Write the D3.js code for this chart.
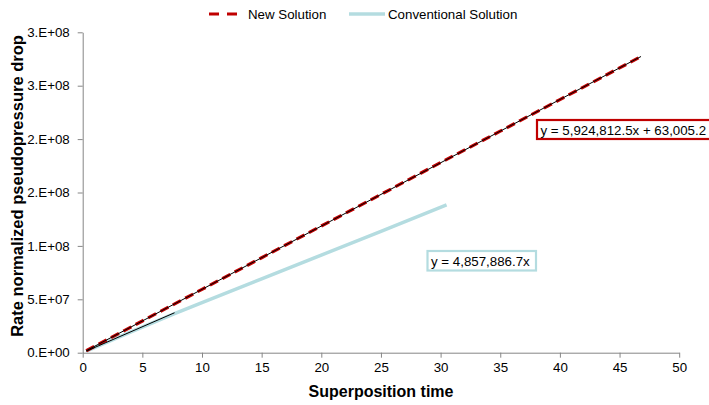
<!DOCTYPE html>
<html>
<head>
<meta charset="utf-8">
<script src="https://cdn.jsdelivr.net/npm/d3@7"></script>
<style>
  body { margin: 0; background: #fff; }
  svg { display: block; font-family: "Liberation Sans", Arial, sans-serif; }
</style>
</head>
<body>
<svg id="chart" width="709" height="405"></svg>
<script>
// ---- data ----
const seriesNames = ["New Solution", "Conventional Solution"];
const newSolutionX = [0.3, 2, 5, 10, 15, 20, 25, 30, 35, 40, 46.8];
const newSolutionY = [1.84e6, 1.19e7, 2.97e7, 5.93e7, 8.89e7, 1.186e8, 1.482e8, 1.78e8, 2.074e8, 2.37e8, 2.773e8];
const conventionalX = [0.3, 2, 4, 6, 7.7, 10, 15, 20, 25, 30.5];
const conventionalY = [1.4e6, 9.6e6, 1.92e7, 2.86e7, 3.66e7, 4.69e7, 6.91e7, 9.14e7, 1.137e8, 1.383e8];
const trendNew = [5924812.5, 63005.2, 0.3, 46.8];     // slope, intercept, xStart, xEnd
const trendConv = [4857886.7, 0, 0.3, 7.7];
const trendLabels = ["y = 5,924,812.5x + 63,005.2", "y = 4,857,886.7x"];
const xTickValues = [0, 5, 10, 15, 20, 25, 30, 35, 40, 45, 50];
const yTickValues = [0, 5e7, 1e8, 1.5e8, 2e8, 2.5e8, 3e8];
const yTickLabels = ["0.E+00", "5.E+07", "1.E+08", "2.E+08", "2.E+08", "3.E+08", "3.E+08"];
const xTitle = "Superposition time";
const yTitle = "Rate normalized pseudopressure drop";

// ---- drawing ----
const svg = d3.select("#chart");
const x = d3.scaleLinear().domain([0, 50]).range([82.7, 679.2]);
const y = d3.scaleLinear().domain([0, 3e8]).range([352.7, 32.3]);
const red = "#c00000", blue = "#b4dce0", axisCol = "#868686";
const fs = 13.3;

// axes
const xAxis = svg.append("g").attr("transform", `translate(0,${y(0)})`)
  .call(d3.axisBottom(x).tickValues(xTickValues).tickSize(5).tickSizeOuter(0).tickPadding(5));
const yAxis = svg.append("g").attr("transform", `translate(${x(0)},0)`)
  .call(d3.axisLeft(y).tickValues(yTickValues).tickSize(5).tickSizeOuter(0).tickPadding(8)
        .tickFormat((d, i) => yTickLabels[i]));
[xAxis, yAxis].forEach(g => {
  g.select(".domain").attr("stroke", axisCol);
  g.selectAll(".tick line").attr("stroke", axisCol);
  g.selectAll(".tick text").attr("fill", "#000").attr("font-size", fs)
    .attr("font-family", "Liberation Sans, Arial, sans-serif");
});

const line = d3.line().x(d => x(d[0])).y(d => y(d[1]));

// conventional
svg.append("path").datum(d3.zip(conventionalX, conventionalY))
  .attr("d", line).attr("fill", "none").attr("stroke", blue).attr("stroke-width", 3.5);
// new solution
svg.append("path").datum(d3.zip(newSolutionX, newSolutionY))
  .attr("d", line).attr("fill", "none").attr("stroke", red).attr("stroke-width", 3.2)
  .attr("stroke-dasharray", "9,5");

// trendlines
[trendNew, trendConv].forEach(t => {
  const pts = [[t[2], t[0] * t[2] + t[1]], [t[3], t[0] * t[3] + t[1]]];
  svg.append("path").datum(pts).attr("d", line).attr("fill", "none")
    .attr("stroke", "#000").attr("stroke-width", 1);
});

// trend labels
function label(text, lx, ly, w, h, col) {
  svg.append("rect").attr("x", lx).attr("y", ly).attr("width", w).attr("height", h)
    .attr("fill", "#fff").attr("stroke", col).attr("stroke-width", 2.2);
  svg.append("text").attr("x", lx + 3.5).attr("y", ly + h / 2 + 5)
    .attr("font-size", fs).attr("fill", "#000").text(text);
}
label(trendLabels[0], 537, 120, 180, 19, red);
label(trendLabels[1], 427.5, 251, 108.5, 19.5, blue);

// titles
svg.append("text").attr("x", 381).attr("y", 397).attr("text-anchor", "middle")
  .attr("font-size", 16).attr("font-weight", "bold").text(xTitle);
svg.append("text").attr("transform", "translate(23,186) rotate(-90)")
  .attr("text-anchor", "middle").attr("font-size", 16.5).attr("font-weight", "bold").text(yTitle);

// legend
const lg = svg.append("g");
lg.append("line").attr("x1", 209).attr("x2", 242).attr("y1", 14).attr("y2", 14)
  .attr("stroke", red).attr("stroke-width", 3.2).attr("stroke-dasharray", "10,8");
lg.append("text").attr("x", 248).attr("y", 19).attr("font-size", fs).text(seriesNames[0]);
lg.append("line").attr("x1", 349).attr("x2", 385).attr("y1", 14).attr("y2", 14)
  .attr("stroke", blue).attr("stroke-width", 3.5);
lg.append("text").attr("x", 388).attr("y", 19).attr("font-size", fs).text(seriesNames[1]);
</script>
</body>
</html>
